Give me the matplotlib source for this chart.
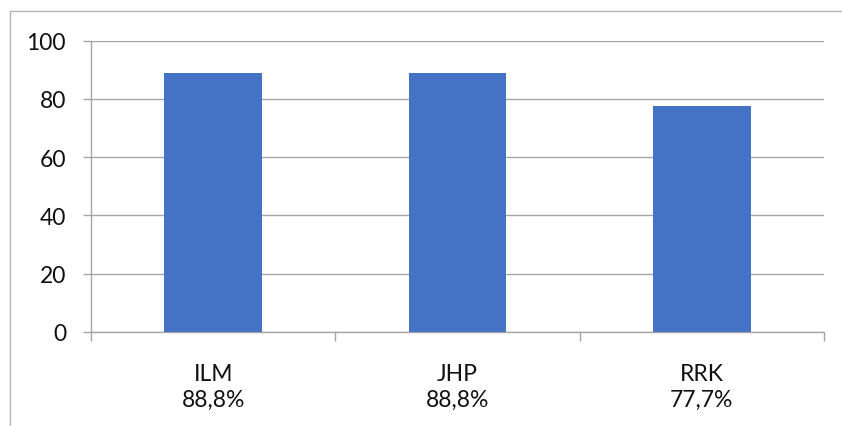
import numpy as np
import matplotlib.pyplot as plt
from matplotlib.lines import Line2D

plt.rcParams['font.family'] = ['Lato', 'DejaVu Sans']

groups = ['ILM', 'JHP', 'RRK']
shares = [88.8, 88.8, 77.7]
yticks = [0, 20, 40, 60, 80, 100]

grey = '#a6a6a6'
blue = '#4472c4'

fig = plt.figure(figsize=(8.42, 4.27), dpi=100)
ax = fig.add_axes([91 / 842, 1 - 333 / 427, 733 / 842, 291.3 / 427])

x = np.arange(len(groups))
ax.bar(x, shares, width=0.4, color=blue, zorder=3)

ax.set_xlim(-0.5, len(groups) - 0.5)
ax.set_ylim(0, 100)
ax.set_yticks(yticks)
ax.set_yticklabels([str(v) for v in yticks])

# category labels carry the share under the name
ax.set_xticks(x)
ax.set_xticklabels(['%s\n%s%%' % (g, ('%.1f' % s).replace('.', ',')) for g, s in zip(groups, shares)],
                   linespacing=1.33)
ax.set_xticks(np.arange(len(groups) + 1) - 0.5, minor=True)

ax.tick_params(axis='x', which='major', length=0, pad=22, labelsize=16.5, colors='#111111')
ax.tick_params(axis='x', which='minor', length=6.5, width=1, color=grey, direction='out')
ax.tick_params(axis='y', length=6, width=1, color=grey, pad=12, labelsize=16.5, labelcolor='#111111')

ax.yaxis.grid(True, color=grey, linewidth=1)
ax.set_axisbelow(True)
for side in ['top', 'right']:
    ax.spines[side].set_visible(False)
for side in ['left', 'bottom']:
    ax.spines[side].set_color(grey)
    ax.spines[side].set_linewidth(1)

# chart area frame
fig.add_artist(Line2D([9.5 / 842, 9.5 / 842], [0, 1 - 11.5 / 427], transform=fig.transFigure,
                      color='#b4b4b4', linewidth=1))
fig.add_artist(Line2D([9.5 / 842, 1], [1 - 11.5 / 427, 1 - 11.5 / 427], transform=fig.transFigure,
                      color='#b4b4b4', linewidth=1))

plt.savefig('out.png', dpi=100)
